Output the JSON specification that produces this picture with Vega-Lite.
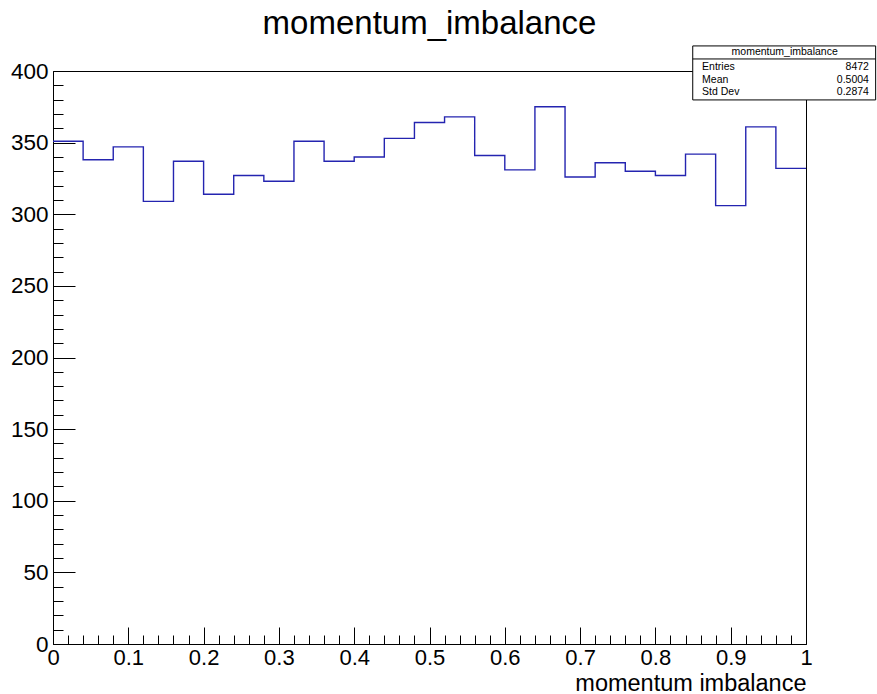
{
  "$schema": "https://vega.github.io/schema/vega-lite/v6.json",
  "autosize": {"type": "none"},
  "padding": {"left": 53, "top": 71, "right": 71, "bottom": 50},
  "width": 753,
  "height": 573,
  "background": "white",
  "config": {
    "view": {"stroke": "black", "strokeWidth": 1},
    "font": "Liberation Sans"
  },
  "title": {
    "text": "momentum_imbalance",
    "font": "Liberation Sans",
    "fontSize": 33,
    "fontWeight": "normal",
    "color": "black",
    "anchor": "middle",
    "frame": "group",
    "offset": 4
  },
  "datasets": {
    "hist": [
      {"x": 0.00, "count": 351},
      {"x": 0.04, "count": 338},
      {"x": 0.08, "count": 347},
      {"x": 0.12, "count": 309},
      {"x": 0.16, "count": 337},
      {"x": 0.20, "count": 314},
      {"x": 0.24, "count": 327},
      {"x": 0.28, "count": 323},
      {"x": 0.32, "count": 351},
      {"x": 0.36, "count": 337},
      {"x": 0.40, "count": 340},
      {"x": 0.44, "count": 353},
      {"x": 0.48, "count": 364},
      {"x": 0.52, "count": 368},
      {"x": 0.56, "count": 341},
      {"x": 0.60, "count": 331},
      {"x": 0.64, "count": 375},
      {"x": 0.68, "count": 326},
      {"x": 0.72, "count": 336},
      {"x": 0.76, "count": 330},
      {"x": 0.80, "count": 327},
      {"x": 0.84, "count": 342},
      {"x": 0.88, "count": 306},
      {"x": 0.92, "count": 361},
      {"x": 0.96, "count": 332},
      {"x": 1.00, "count": 332}
    ],
    "stats": [
      {"stat": "Entries", "value": "8472"},
      {"stat": "Mean", "value": "0.5004"},
      {"stat": "Std Dev", "value": "0.2874"}
    ],
    "box": [
      {"name": "momentum_imbalance"}
    ]
  },
  "layer": [
    {
      "data": {"name": "hist"},
      "mark": {"type": "line", "interpolate": "step-after", "color": "#2424b0", "strokeWidth": 1.4, "clip": true},
      "encoding": {
        "x": {
          "field": "x", "type": "quantitative",
          "scale": {"domain": [0, 1], "nice": false, "zero": false},
          "axis": {
            "values": [0,0.02,0.04,0.06,0.08,0.1,0.12,0.14,0.16,0.18,0.2,0.22,0.24,0.26,0.28,0.3,0.32,0.34,0.36,0.38,0.4,0.42,0.44,0.46,0.48,0.5,0.52,0.54,0.56,0.58,0.6,0.62,0.64,0.66,0.68,0.7,0.72,0.74,0.76,0.78,0.8,0.82,0.84,0.86,0.88,0.9,0.92,0.94,0.96,0.98,1],
            "tickCount": 200,
            "tickSize": {"condition": {"test": "round(datum.value*50)%5==0", "value": -17}, "value": -9},
            "tickColor": "black",
            "tickWidth": 1,
            "domainColor": "black",
            "domainWidth": 1,
            "grid": false,
            "labelExpr": "round(datum.value*50)%5==0 ? format(datum.value,'~g') : ''",
            "labelFont": "Liberation Sans",
            "labelFontSize": 22,
            "labelColor": "black",
            "labelPadding": 20,
            "labelFlush": false,
            "labelOverlap": false,
            "labelBaseline": "top",
            "title": "momentum imbalance",
            "titleFont": "Liberation Sans",
            "titleFontSize": 23.5,
            "titleFontWeight": "normal",
            "titleColor": "black",
            "titleAnchor": "end",
            "titleAlign": "right",
            "titleBaseline": "alphabetic",
            "titleX": 753,
            "titleY": 46
          }
        },
        "y": {
          "field": "count", "type": "quantitative",
          "scale": {"domain": [0, 400], "nice": false, "zero": true},
          "axis": {
            "values": [0,10,20,30,40,50,60,70,80,90,100,110,120,130,140,150,160,170,180,190,200,210,220,230,240,250,260,270,280,290,300,310,320,330,340,350,360,370,380,390,400],
            "tickCount": 200,
            "tickSize": {"condition": {"test": "datum.value%50==0", "value": -22}, "value": -10},
            "tickColor": "black",
            "tickWidth": 1,
            "domainColor": "black",
            "domainWidth": 1,
            "grid": false,
            "labelExpr": "datum.value%50==0 ? format(datum.value,'d') : ''",
            "labelFont": "Liberation Sans",
            "labelFontSize": 22.5,
            "labelColor": "black",
            "labelPadding": 27,
            "labelFlush": false,
            "labelOverlap": false,
            "title": null
          }
        }
      }
    },
    {
      "data": {"name": "box"},
      "mark": {"type": "rect", "fill": "white", "stroke": "black", "strokeWidth": 1},
      "encoding": {
        "x": {"datum": 0.8496, "type": "quantitative"},
        "x2": {"datum": 1.0925},
        "y": {"datum": 417.5, "type": "quantitative"},
        "y2": {"datum": 379.8}
      }
    },
    {
      "data": {"name": "box"},
      "mark": {"type": "rule", "stroke": "black", "strokeWidth": 1},
      "encoding": {
        "x": {"datum": 0.8496, "type": "quantitative"},
        "x2": {"datum": 1.0925},
        "y": {"datum": 408.4, "type": "quantitative"}
      }
    },
    {
      "data": {"name": "box"},
      "mark": {"type": "text", "font": "Liberation Sans", "fontSize": 10.5, "color": "black", "align": "center", "baseline": "middle"},
      "encoding": {
        "x": {"datum": 0.9717, "type": "quantitative"},
        "y": {"datum": 413.1, "type": "quantitative"},
        "text": {"field": "name"}
      }
    },
    {
      "data": {"name": "stats"},
      "transform": [{"filter": "datum.stat == 'Entries'"}],
      "encoding": {"y": {"datum": 403, "type": "quantitative"}},
      "layer": [
        {
          "mark": {"type": "text", "font": "Liberation Sans", "fontSize": 10.5, "color": "black", "align": "left", "baseline": "middle"},
          "encoding": {"x": {"datum": 0.862, "type": "quantitative"}, "text": {"field": "stat"}}
        },
        {
          "mark": {"type": "text", "font": "Liberation Sans", "fontSize": 10.5, "color": "black", "align": "right", "baseline": "middle"},
          "encoding": {"x": {"datum": 1.0836, "type": "quantitative"}, "text": {"field": "value"}}
        }
      ]
    },
    {
      "data": {"name": "stats"},
      "transform": [{"filter": "datum.stat == 'Mean'"}],
      "encoding": {"y": {"datum": 394, "type": "quantitative"}},
      "layer": [
        {
          "mark": {"type": "text", "font": "Liberation Sans", "fontSize": 10.5, "color": "black", "align": "left", "baseline": "middle"},
          "encoding": {"x": {"datum": 0.862, "type": "quantitative"}, "text": {"field": "stat"}}
        },
        {
          "mark": {"type": "text", "font": "Liberation Sans", "fontSize": 10.5, "color": "black", "align": "right", "baseline": "middle"},
          "encoding": {"x": {"datum": 1.0836, "type": "quantitative"}, "text": {"field": "value"}}
        }
      ]
    },
    {
      "data": {"name": "stats"},
      "transform": [{"filter": "datum.stat == 'Std Dev'"}],
      "encoding": {"y": {"datum": 385, "type": "quantitative"}},
      "layer": [
        {
          "mark": {"type": "text", "font": "Liberation Sans", "fontSize": 10.5, "color": "black", "align": "left", "baseline": "middle"},
          "encoding": {"x": {"datum": 0.862, "type": "quantitative"}, "text": {"field": "stat"}}
        },
        {
          "mark": {"type": "text", "font": "Liberation Sans", "fontSize": 10.5, "color": "black", "align": "right", "baseline": "middle"},
          "encoding": {"x": {"datum": 1.0836, "type": "quantitative"}, "text": {"field": "value"}}
        }
      ]
    }
  ]
}
